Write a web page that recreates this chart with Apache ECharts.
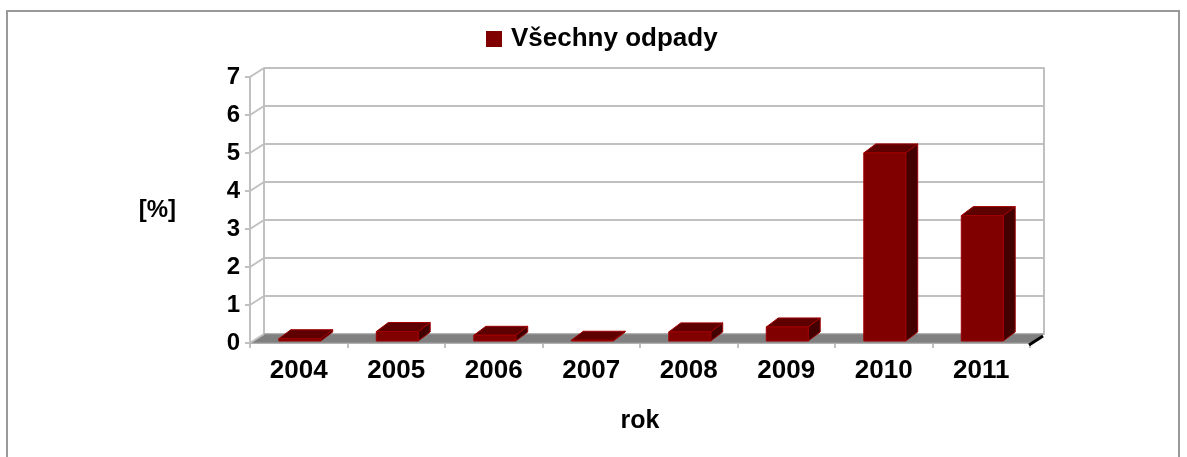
<!DOCTYPE html>
<html>
<head>
<meta charset="utf-8">
<script src="https://cdn.jsdelivr.net/npm/echarts@6/dist/echarts.min.js"></script>
<style>
    html, body { margin: 0; padding: 0; background: #fff; }
    #chart { width: 1187px; height: 457px; }
</style>
</head>
<body>
<div id="chart"></div>
<script>
    // data
    const years = ['2004', '2005', '2006', '2007', '2008', '2009', '2010', '2011'];
    const odpady = [0.06, 0.25, 0.15, 0.02, 0.24, 0.37, 4.95, 3.3];
    const yTicks = [0, 1, 2, 3, 4, 5, 6, 7];

    // 3d look
    const DX = 14, DY = -9;       // depth of the floor / walls
    const BDX = 12, BDY = -9;     // depth of one bar
    const FONT = '"Liberation Sans", Arial, sans-serif';
    const GRID_C = '#c0c0c0';

    let chart = echarts.init(document.getElementById('chart'));

    function renderWalls(params, api) {
        let cs = params.coordSys;
        let v = api.value(0);
        let y = api.coord([0, v])[1];
        let children = [{
            type: 'line',
            shape: { x1: cs.x, y1: y, x2: cs.x + DX, y2: y + DY },
            style: { stroke: GRID_C, lineWidth: 2 }
        }];
        if (v === 0) {
            let yb = cs.y + cs.height;
            children.unshift({
                type: 'polygon',
                shape: { points: [[cs.x, yb], [cs.x + cs.width, yb], [cs.x + cs.width + DX, yb + DY], [cs.x + DX, yb + DY]] },
                style: { fill: '#808080', stroke: '#a0a0a0', lineWidth: 1 }
            });
            children.push({
                type: 'line',
                shape: { x1: cs.x + cs.width - 1, y1: yb + 2, x2: cs.x + cs.width + DX - 1, y2: yb + DY + 2 },
                style: { stroke: '#000', lineWidth: 3 }
            });
        }
        return { type: 'group', children: children };
    }

    function renderBar(params, api) {
        let i = api.value(0);
        let base = api.coord([i, 0]);
        let top = api.coord([i, api.value(1)]);
        let w = api.size([1, 0])[0] * 0.43;
        let xl = base[0] - w / 2 + 1, xr = base[0] + w / 2 + 1;
        let yb = base[1] - 2, yt = top[1] - 2;
        let edge = { stroke: '#a00000', lineWidth: 1 };
        return {
            type: 'group',
            children: [
                { type: 'polygon', shape: { points: [[xr, yt], [xr + BDX, yt + BDY], [xr + BDX, yb + BDY], [xr, yb]] },
                  style: Object.assign({ fill: '#420000' }, edge) },
                { type: 'polygon', shape: { points: [[xl, yt], [xr, yt], [xr + BDX, yt + BDY], [xl + BDX, yt + BDY]] },
                  style: Object.assign({ fill: '#5e0000' }, edge) },
                { type: 'rect', shape: { x: xl, y: yt, width: xr - xl, height: yb - yt },
                  style: Object.assign({ fill: '#800000' }, edge) }
            ]
        };
    }

    chart.setOption({
        animation: false,
        backgroundColor: '#fff',
        textStyle: { fontFamily: FONT },
        graphic: [{
            type: 'rect',
            shape: { x: 7, y: 11, width: 1172, height: 470 },
            style: { fill: 'none', stroke: '#999', lineWidth: 2 },
            silent: true
        }],
        legend: {
            left: 481,
            top: 21,
            icon: 'rect',
            itemWidth: 16,
            itemHeight: 16,
            data: ['Všechny odpady'],
            textStyle: { fontSize: 26, fontWeight: 'bold', color: '#000', fontFamily: FONT, padding: [0, 0, 0, 4] }
        },
        grid: [
            { left: 250, top: 77, width: 780, height: 266 },
            { left: 264, top: 68, width: 780, height: 266 }
        ],
        xAxis: [{
            gridIndex: 0,
            type: 'category',
            data: years,
            name: 'rok',
            nameLocation: 'middle',
            nameGap: 66,
            nameTextStyle: { fontSize: 25, fontWeight: 'bold', color: '#000', fontFamily: FONT },
            axisLine: { lineStyle: { color: GRID_C, width: 2 } },
            axisTick: { show: true, length: 5, lineStyle: { color: GRID_C, width: 2 } },
            axisLabel: { margin: 15, fontSize: 26, fontWeight: 'bold', color: '#000', fontFamily: FONT },
            splitLine: { show: false }
        }, {
            gridIndex: 1,
            type: 'category',
            data: years,
            show: false
        }],
        yAxis: [{
            gridIndex: 0,
            type: 'value',
            min: 0, max: 7, interval: 1,
            name: '[%]',
            nameLocation: 'middle',
            nameRotate: 0,
            nameGap: 74,
            nameTextStyle: { fontSize: 24, fontWeight: 'bold', color: '#000', fontFamily: FONT },
            axisLine: { show: true, lineStyle: { color: GRID_C, width: 2 } },
            axisTick: { show: true, length: 5, lineStyle: { color: GRID_C, width: 2 } },
            axisLabel: { margin: 10, fontSize: 24, fontWeight: 'bold', color: '#000', fontFamily: FONT },
            splitLine: { show: false }
        }, {
            gridIndex: 1,
            type: 'value',
            min: 0, max: 7, interval: 1,
            axisLine: { show: true, lineStyle: { color: GRID_C, width: 2 } },
            axisTick: { show: false },
            axisLabel: { show: false },
            splitLine: { show: true, lineStyle: { color: GRID_C, width: 2 } }
        }, {
            gridIndex: 1,
            type: 'value',
            position: 'right',
            min: 0, max: 7, interval: 1,
            axisLine: { show: true, lineStyle: { color: GRID_C, width: 2 } },
            axisTick: { show: false },
            axisLabel: { show: false },
            splitLine: { show: false }
        }],
        series: [{
            name: 'walls',
            type: 'custom',
            xAxisIndex: 0,
            yAxisIndex: 0,
            silent: true,
            renderItem: renderWalls,
            data: yTicks.map(v => [v])
        }, {
            name: 'Všechny odpady',
            type: 'custom',
            xAxisIndex: 0,
            yAxisIndex: 0,
            itemStyle: { color: '#800000' },
            renderItem: renderBar,
            encode: { x: 0, y: 1 },
            data: odpady.map((v, i) => [i, v])
        }]
    });
</script>
</body>
</html>
